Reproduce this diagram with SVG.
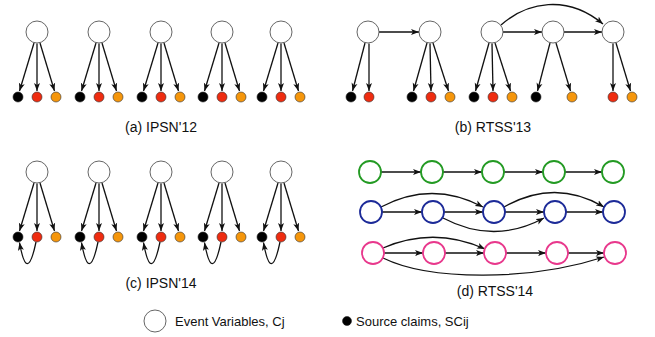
<svg xmlns="http://www.w3.org/2000/svg" width="655" height="337" viewBox="0 0 655 337">
<style>
.ev{fill:#fff;stroke:#555;stroke-width:0.9}
.dk{fill:#000;stroke:#222;stroke-width:0.6}
.rd{fill:#ee2c10;stroke:#333;stroke-width:0.6}
.or{fill:#f5960c;stroke:#333;stroke-width:0.6}
.g{fill:#fff;stroke:#239a23;stroke-width:1.8}
.b{fill:#fff;stroke:#1c2a98;stroke-width:1.8}
.p{fill:#fff;stroke:#e8388c;stroke-width:1.8}
.e{fill:none;stroke:#111;stroke-width:1.3;marker-end:url(#ah)}
.cap{font-family:"Liberation Sans",Arial,sans-serif;font-size:14px;fill:#111;text-anchor:middle}
.leg{font-family:"Liberation Sans",Arial,sans-serif;font-size:13px;fill:#111}
</style>
<defs>
<marker id="ah" markerUnits="userSpaceOnUse" markerWidth="9" markerHeight="7" refX="8" refY="3.5" orient="auto">
<path d="M0,0.5 L8,3.5 L0,6.5 L2,3.5 z" fill="#111"/>
</marker>
</defs>
<rect width="655" height="337" fill="#fff"/>

<g id="connectors">
<!-- panel a -->
<path class="e" d="M34,43 L19.5,91"/><path class="e" d="M37,43.5 L37,91"/><path class="e" d="M40,43 L54.5,91"/>
<path class="e" d="M96,43 L81.5,91"/><path class="e" d="M99,43.5 L99,91"/><path class="e" d="M102,43 L116.5,91"/>
<path class="e" d="M158,43 L143.5,91"/><path class="e" d="M161,43.5 L161,91"/><path class="e" d="M164,43 L178.5,91"/>
<path class="e" d="M219,43 L204.5,91"/><path class="e" d="M222,43.5 L222,91"/><path class="e" d="M225,43 L239.5,91"/>
<path class="e" d="M278,43 L263.5,91"/><path class="e" d="M281,43.5 L281,91"/><path class="e" d="M284,43 L298.5,91"/>
<!-- panel b -->
<path class="e" d="M365,43 L352.5,91"/><path class="e" d="M369,43.5 L369,91"/>
<path class="e" d="M427,43 L413.5,91"/><path class="e" d="M430,43.5 L431,91"/><path class="e" d="M433,43 L448.5,91"/>
<path class="e" d="M489,43 L475.5,91"/><path class="e" d="M492,43.5 L493,91"/><path class="e" d="M495,43 L510.5,91"/>
<path class="e" d="M550,43 L537.5,91"/><path class="e" d="M556,43 L570.5,91"/>
<path class="e" d="M613,43.5 L613,91"/><path class="e" d="M616,43 L630.5,91"/>
<path class="e" d="M379,32 L419,32"/><path class="e" d="M503,32 L542,32"/><path class="e" d="M564,32 L602,32"/>
<path class="e" d="M501,25 C527,2 567,-6 603,24"/>
<!-- panel c -->
<path class="e" d="M34,183 L19.5,231"/><path class="e" d="M37,183.5 L37,231"/><path class="e" d="M40,183 L54.5,231"/>
<path class="e" d="M96,183 L81.5,231"/><path class="e" d="M99,183.5 L99,231"/><path class="e" d="M102,183 L116.5,231"/>
<path class="e" d="M158,183 L143.5,231"/><path class="e" d="M161,183.5 L161,231"/><path class="e" d="M164,183 L178.5,231"/>
<path class="e" d="M219,183 L204.5,231"/><path class="e" d="M222,183.5 L222,231"/><path class="e" d="M225,183 L239.5,231"/>
<path class="e" d="M278,183 L263.5,231"/><path class="e" d="M281,183.5 L281,231"/><path class="e" d="M284,183 L298.5,231"/>
<path class="e" d="M36,242 Q27,285 19.5,242.5"/>
<path class="e" d="M98,242 Q89,285 81.5,242.5"/>
<path class="e" d="M160,242 Q151,285 143.5,242.5"/>
<path class="e" d="M221,242 Q212,285 204.5,242.5"/>
<path class="e" d="M280,242 Q271,285 263.5,242.5"/>
<!-- panel d row 1 -->
<path class="e" d="M381,172 L421,172"/><path class="e" d="M443,172 L482,172"/><path class="e" d="M504,172 L543,172"/><path class="e" d="M565,172 L602,172"/>
<!-- row 2 -->
<path class="e" d="M382,212 L422,212"/><path class="e" d="M444,212 L483,212"/><path class="e" d="M505,212 L544,212"/><path class="e" d="M566,212 L603,212"/>
<path class="e" d="M381,207 Q432,180 483,207"/>
<path class="e" d="M443,218 Q494,245 544,218"/>
<path class="e" d="M504,207 Q555,178 604,207"/>
<!-- row 3 -->
<path class="e" d="M384,253 L423,253"/><path class="e" d="M445,253 L484,253"/><path class="e" d="M506,253 L546,253"/><path class="e" d="M568,253 L604,253"/>
<path class="e" d="M383,248 Q434,226 485,249"/>
<path class="e" d="M383,258 C430,281 530,281 604,257"/>
</g>

<g id="panel-a">
<g id="a1"><circle class="ev" cx="37" cy="32" r="11"/><circle class="dk" cx="18" cy="97" r="5"/><circle class="rd" cx="37" cy="97" r="5"/><circle class="or" cx="56" cy="97" r="5"/></g>
<g id="a2"><circle class="ev" cx="99" cy="32" r="11"/><circle class="dk" cx="80" cy="97" r="5"/><circle class="rd" cx="99" cy="97" r="5"/><circle class="or" cx="118" cy="97" r="5"/></g>
<g id="a3"><circle class="ev" cx="161" cy="32" r="11"/><circle class="dk" cx="142" cy="97" r="5"/><circle class="rd" cx="161" cy="97" r="5"/><circle class="or" cx="180" cy="97" r="5"/></g>
<g id="a4"><circle class="ev" cx="222" cy="32" r="11"/><circle class="dk" cx="203" cy="97" r="5"/><circle class="rd" cx="222" cy="97" r="5"/><circle class="or" cx="241" cy="97" r="5"/></g>
<g id="a5"><circle class="ev" cx="281" cy="32" r="11"/><circle class="dk" cx="262" cy="97" r="5"/><circle class="rd" cx="281" cy="97" r="5"/><circle class="or" cx="300" cy="97" r="5"/></g>
<text class="cap" x="161" y="132">(a) IPSN'12</text>
</g>

<g id="panel-b">
<g id="b1"><circle class="ev" cx="368" cy="32" r="11"/><circle class="dk" cx="351" cy="97" r="5"/><circle class="rd" cx="369" cy="97" r="5"/></g>
<g id="b2"><circle class="ev" cx="430" cy="32" r="11"/><circle class="dk" cx="412" cy="97" r="5"/><circle class="rd" cx="431" cy="97" r="5"/><circle class="or" cx="450" cy="97" r="5"/></g>
<g id="b3"><circle class="ev" cx="492" cy="32" r="11"/><circle class="dk" cx="474" cy="97" r="5"/><circle class="rd" cx="493" cy="97" r="5"/><circle class="or" cx="512" cy="97" r="5"/></g>
<g id="b4"><circle class="ev" cx="553" cy="32" r="11"/><circle class="dk" cx="536" cy="97" r="5"/><circle class="or" cx="572" cy="97" r="5"/></g>
<g id="b5"><circle class="ev" cx="613" cy="32" r="11"/><circle class="rd" cx="613" cy="97" r="5"/><circle class="or" cx="632" cy="97" r="5"/></g>
<text class="cap" x="493" y="132">(b) RTSS'13</text>
</g>

<g id="panel-c">
<g id="c1"><circle class="ev" cx="37" cy="172" r="11"/><circle class="dk" cx="18" cy="237" r="5"/><circle class="rd" cx="37" cy="237" r="5"/><circle class="or" cx="56" cy="237" r="5"/></g>
<g id="c2"><circle class="ev" cx="99" cy="172" r="11"/><circle class="dk" cx="80" cy="237" r="5"/><circle class="rd" cx="99" cy="237" r="5"/><circle class="or" cx="118" cy="237" r="5"/></g>
<g id="c3"><circle class="ev" cx="161" cy="172" r="11"/><circle class="dk" cx="142" cy="237" r="5"/><circle class="rd" cx="161" cy="237" r="5"/><circle class="or" cx="180" cy="237" r="5"/></g>
<g id="c4"><circle class="ev" cx="222" cy="172" r="11"/><circle class="dk" cx="203" cy="237" r="5"/><circle class="rd" cx="222" cy="237" r="5"/><circle class="or" cx="241" cy="237" r="5"/></g>
<g id="c5"><circle class="ev" cx="281" cy="172" r="11"/><circle class="dk" cx="262" cy="237" r="5"/><circle class="rd" cx="281" cy="237" r="5"/><circle class="or" cx="300" cy="237" r="5"/></g>
<text class="cap" x="161" y="288">(c) IPSN'14</text>
</g>

<g id="panel-d">
<g id="d-g1"><circle class="g" cx="370" cy="172" r="11"/></g>
<g id="d-g2"><circle class="g" cx="432" cy="172" r="11"/></g>
<g id="d-g3"><circle class="g" cx="493" cy="172" r="11"/></g>
<g id="d-g4"><circle class="g" cx="554" cy="172" r="11"/></g>
<g id="d-g5"><circle class="g" cx="613" cy="172" r="11"/></g>
<g id="d-b1"><circle class="b" cx="371" cy="212" r="11"/></g>
<g id="d-b2"><circle class="b" cx="433" cy="212" r="11"/></g>
<g id="d-b3"><circle class="b" cx="494" cy="212" r="11"/></g>
<g id="d-b4"><circle class="b" cx="555" cy="212" r="11"/></g>
<g id="d-b5"><circle class="b" cx="614" cy="212" r="11"/></g>
<g id="d-p1"><circle class="p" cx="373" cy="253" r="11"/></g>
<g id="d-p2"><circle class="p" cx="434" cy="253" r="11"/></g>
<g id="d-p3"><circle class="p" cx="495" cy="253" r="11"/></g>
<g id="d-p4"><circle class="p" cx="557" cy="253" r="11"/></g>
<g id="d-p5"><circle class="p" cx="615" cy="253" r="11"/></g>
<text class="cap" x="495" y="296">(d) RTSS'14</text>
</g>

<g id="legend">
<g id="leg-event"><circle class="ev" cx="155" cy="321" r="11"/><text class="leg" x="175" y="325.5">Event Variables, Cj</text></g>
<g id="leg-source"><circle class="dk" cx="347" cy="321" r="4.5"/><text class="leg" x="356" y="325.5">Source claims, SCij</text></g>
</g>
</svg>
